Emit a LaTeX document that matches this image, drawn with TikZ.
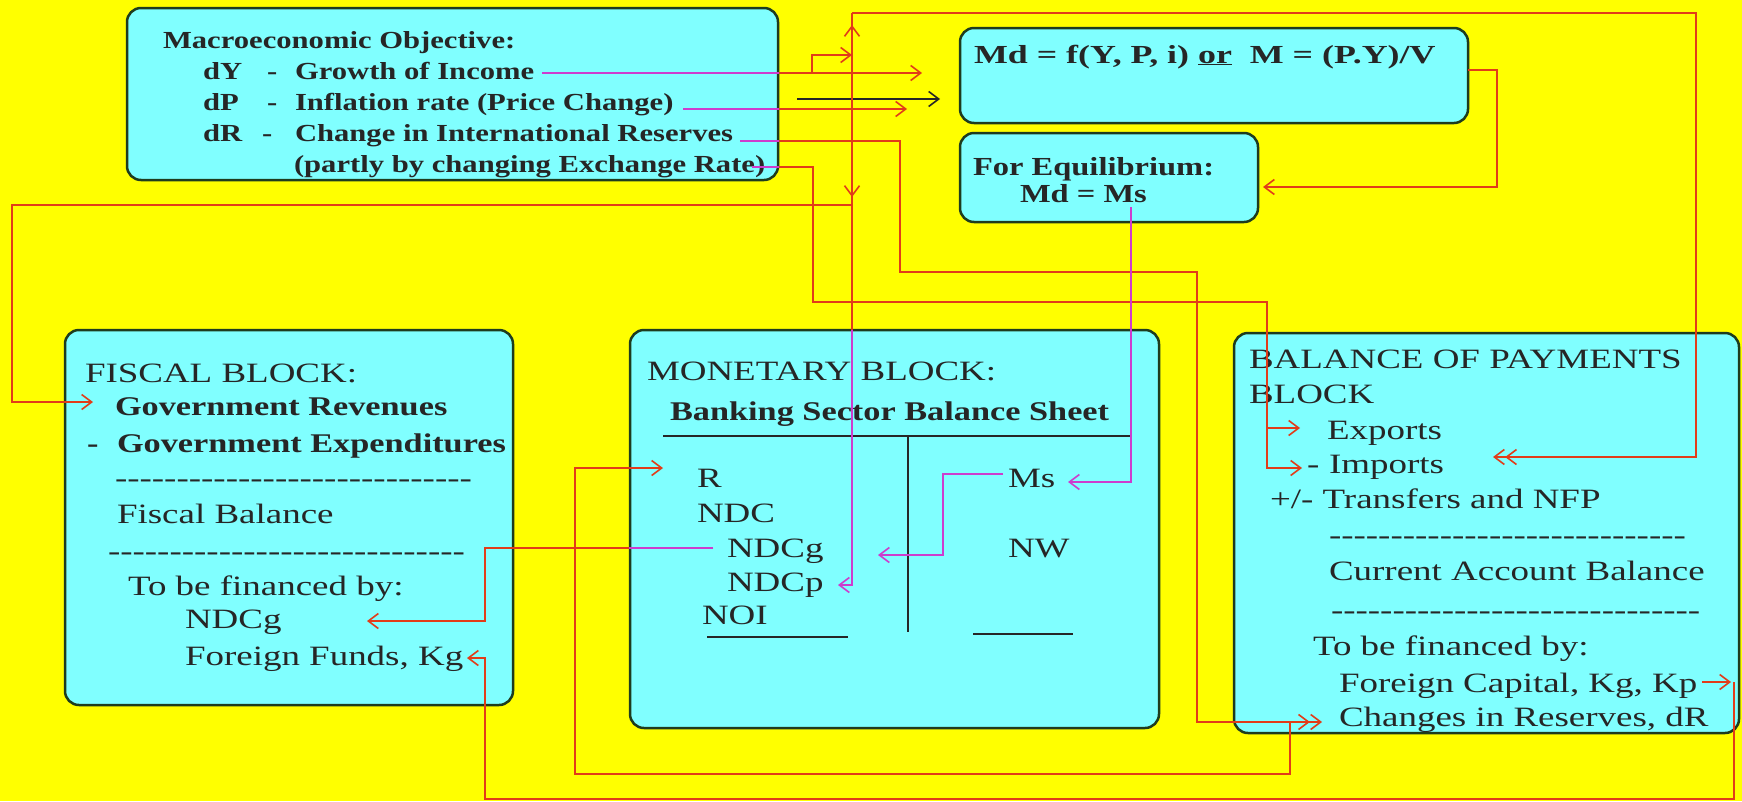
\documentclass[tikz,border=0pt]{standalone}
\usepackage{fontspec}
\usepackage{graphicx}
\setmainfont{Liberation Serif}
\usetikzlibrary{arrows.meta}
\definecolor{bg}{RGB}{255,255,0}
\definecolor{boxfill}{RGB}{128,255,255}
\definecolor{boxline}{RGB}{30,60,30}
\definecolor{lred}{RGB}{225,60,25}
\definecolor{lmag}{RGB}{205,60,205}
\newcommand{\sx}[1]{\scalebox{1.25}[1]{#1}}
\newcommand{\sreg}[1]{\scalebox{1.32}[1]{#1}}
\newcommand{\sbld}[1]{\scalebox{1.27}[1]{#1}}
\newcommand{\smd}[1]{\scalebox{1.38}[1]{#1}}
\newcommand{\hyphs}[1]{\foreach \i in {1,...,#1}{\mbox{-}}}
\tikzset{
 blk/.style={draw=boxline, line width=2.5pt, fill=boxfill, rounded corners=14pt, inner sep=0pt},
 txt/.style={anchor=base west, inner sep=0pt, outer sep=0pt, text=black!85},
 mt/.style={txt, font=\fontsize{24.5}{29}\selectfont\bfseries},
 rt/.style={txt, font=\fontsize{28}{33}\selectfont},
 bt/.style={txt, font=\fontsize{27}{31}\selectfont\bfseries},
 et/.style={txt, font=\fontsize{26}{31}\selectfont\bfseries},
 conn/.style={draw=lred, line width=1.8pt},
 connm/.style={draw=lmag, line width=1.8pt},
 arr/.style={-{Straight Barb[length=10pt,width=15pt,line width=1.6pt]}},
 arrtwo/.style={-{Straight Barb[length=10pt,width=15pt,line width=1.6pt]Straight Barb[length=10pt,width=15pt,line width=1.6pt]}},
 tline/.style={draw=black!85, line width=2pt},
}
\begin{document}
\begin{tikzpicture}[x=1pt,y=-1pt]
\fill[bg] (0,0) rectangle (1742,801);
\useasboundingbox (0,0) rectangle (1742,801);

% boxes
\node[blk, minimum width=651pt, minimum height=172pt] (macro) at (452.5,94) {};
\node[blk, minimum width=508pt, minimum height=95pt] (mdbox) at (1214,75.5) {};
\node[blk, minimum width=298pt, minimum height=89pt] (eqbox) at (1109,177.5) {};
\node[blk, minimum width=448pt, minimum height=375pt] (fiscal) at (289,517.5) {};
\node[blk, minimum width=529pt, minimum height=398pt] (monetary) at (894.5,529) {};
\node[blk, minimum width=505pt, minimum height=400pt] (bop) at (1486.5,533) {};

% macro text
\node[mt] (mo) at (163,48) {\sx{Macroeconomic Objective:}};
\node[mt] (dy) at (203,79) {\sx{dY}};
\node[mt] (dyd) at (267,79) {\sx{-}};
\node[mt] (gy) at (295,79) {\sx{Growth of Income}};
\node[mt] (dp) at (203,110) {\sx{dP}};
\node[mt] (dpd) at (267,110) {\sx{-}};
\node[mt] (ip) at (295,110) {\sx{Inflation rate (Price Change)}};
\node[mt] (dr) at (203,141) {\sx{dR}};
\node[mt] (drd) at (262,141) {\sx{-}};
\node[mt] (ci) at (295,141) {\sx{Change in International Reserves}};
\node[mt] (pc) at (294,172) {\sx{(partly by changing Exchange Rate)}};

% Md / equilibrium
\node[et] (mdf) at (974,63) {\smd{Md = f(Y, P, i) \underline{or}\ \ M = (P.Y)/V}};
\node[et] (fe) at (973,175) {\sx{For Equilibrium:}};
\node[et] (mdms) at (1020,202) {\sx{Md = Ms}};

% fiscal
\node[rt] (fb) at (85,382) {\sreg{FISCAL BLOCK:}};
\node[bt] (gr) at (115,415) {\sbld{Government Revenues}};
\node[bt] (gem) at (87,452) {\sbld{-}};
\node[bt] (ge) at (117,452) {\sbld{Government Expenditures}};
\node[rt] (fd1) at (115,487) {\sreg{\hyphs{29}}};
\node[rt] (fbal) at (117,523) {\sreg{Fiscal Balance}};
\node[rt] (fd2) at (108,560) {\sreg{\hyphs{29}}};
\node[rt] (ftb) at (128,595) {\sreg{To be financed by:}};
\node[rt] (fndcg) at (185,628) {\sreg{NDCg}};
\node[rt] (fff) at (185,665) {\sreg{Foreign Funds, Kg}};

% monetary
\node[rt] (mb) at (647,380) {\sreg{MONETARY BLOCK:}};
\node[bt] (bs) at (670,420) {\sbld{Banking Sector Balance Sheet}};
\node[rt] (mr) at (697,487) {\sreg{R}};
\node[rt] (mndc) at (697,522) {\sreg{NDC}};
\node[rt] (mndcg) at (727,557) {\sreg{NDCg}};
\node[rt] (mndcp) at (727,591) {\sreg{NDCp}};
\node[rt] (mnoi) at (702,624) {\sreg{NOI}};
\node[rt] (mms) at (1008,487) {\sreg{Ms}};
\node[rt] (mnw) at (1008,557) {\sreg{NW}};
\coordinate (tl) at (663,436); \coordinate (tr) at (1132,436);
\coordinate (tv) at (908,436); \coordinate (tvb) at (908,632);
\draw[tline] (tl) -- (tr);
\draw[tline] (tv) -- (tvb);
\coordinate (ul1) at (707,637); \coordinate (ul2) at (848,637);
\coordinate (ur1) at (973,634); \coordinate (ur2) at (1073,634);
\draw[tline] (ul1) -- (ul2);
\draw[tline] (ur1) -- (ur2);

% BOP
\node[rt] (bp1) at (1249,368) {\sreg{BALANCE OF PAYMENTS}};
\node[rt] (bp2) at (1249,403) {\sreg{BLOCK}};
\node[rt] (bex) at (1327,439) {\sreg{Exports}};
\node[rt] (bimd) at (1307,473) {\sreg{-}};
\node[rt] (bim) at (1329,473) {\sreg{Imports}};
\node[rt] (btr) at (1270,508) {\sreg{+/- Transfers and NFP}};
\node[rt] (bd1) at (1329,544) {\sreg{\hyphs{29}}};
\node[rt] (bcab) at (1329,580) {\sreg{Current Account Balance}};
\node[rt] (bd2) at (1331,619) {\sreg{\hyphs{30}}};
\node[rt] (btb) at (1313,655) {\sreg{To be financed by:}};
\node[rt] (bfc) at (1339,692) {\sreg{Foreign Capital, Kg, Kp}};
\node[rt] (bcr) at (1339,726) {\sreg{Changes in Reserves, dR}};

% connector end points
\coordinate (gyS) at (542,73); \coordinate (gyT) at (922,73);
\coordinate (brA) at (812,73); \coordinate (brT) at (852,55);
\coordinate (blS) at (797,99); \coordinate (blT) at (940,99);
\coordinate (dpS) at (683,109); \coordinate (dpT) at (907,109);
\coordinate (drS) at (740,141); \coordinate (drT) at (1322,722);
\coordinate (pcS) at (752,167); \coordinate (imT) at (1302,468);
\coordinate (exS) at (1267,428); \coordinate (exT) at (1300,428);
\coordinate (vTop) at (852,13); \coordinate (vIn) at (852,330);
\coordinate (ndcpT) at (838,585);
\coordinate (imT2) at (1493,457);
\coordinate (fisS) at (852,205); \coordinate (grT) at (93,402);
\coordinate (mdS) at (1468,70); \coordinate (eqT) at (1263,187);
\coordinate (eqS) at (1131,207); \coordinate (msT) at (1068,482);
\coordinate (msS) at (1003,474); \coordinate (ndcgT) at (878,555);
\coordinate (ndgS) at (713,548); \coordinate (fndT) at (367,621);
\coordinate (resS) at (1290,722); \coordinate (rT) at (663,468);
\coordinate (kpS) at (1702,682); \coordinate (kpT) at (1731,682);
\coordinate (kpC) at (1734,682); \coordinate (kgT) at (467,658);

% connectors
\draw[conn,arr] (gyS) -- (gyT);
\draw[connm] (gyS) -- (macro.east |- gyS);
\draw[conn,arr] (brA) |- (brT);
\draw[draw=black!85, line width=1.8pt, arr] (blS) -- (blT);
\draw[conn,arr] (dpS) -- (dpT);
\draw[connm] (dpS) -- (macro.east |- dpS);
\draw[conn,arrtwo] (drS) -| (900,272) -| (1197,722) -- (drT);
\draw[connm] (drS) -- (macro.east |- drS);
\draw[conn,arr] (pcS) -| (813,302) -| (exS |- imT) -- (imT);
\draw[connm] (pcS) -- (macro.east |- pcS);
\draw[conn,arr] (exS) -- (exT);
\draw[conn] (vTop) -- (vIn);
\draw[connm,arr] (vIn) |- (ndcpT);
\draw[conn,arr] (852,45) -- (852,25);
\draw[conn,arr] (852,175) -- (852,197);
\draw[conn,arrtwo] (vTop) -| (1696,457) -- (imT2);
\draw[conn,arr] (fisS) -| (12,402) -- (grT);
\draw[conn,arr] (mdS) -| (1497,187) -- (eqT);
\draw[connm,arr] (eqS) |- (msT);
\draw[connm,arr] (msS) -| (943,555) -- (ndcgT);
\draw[conn,arr] (ndgS) -| (485,621) -- (fndT);
\draw[connm] (ndgS) -- (monetary.west |- ndgS);
\draw[conn,arr] (resS) |- (575,774) |- (rT);
\draw[conn,arr] (kpS) -- (kpT);
\draw[conn,arr] (kpC) |- (485,799) |- (kgT);
\end{tikzpicture}
\end{document}
